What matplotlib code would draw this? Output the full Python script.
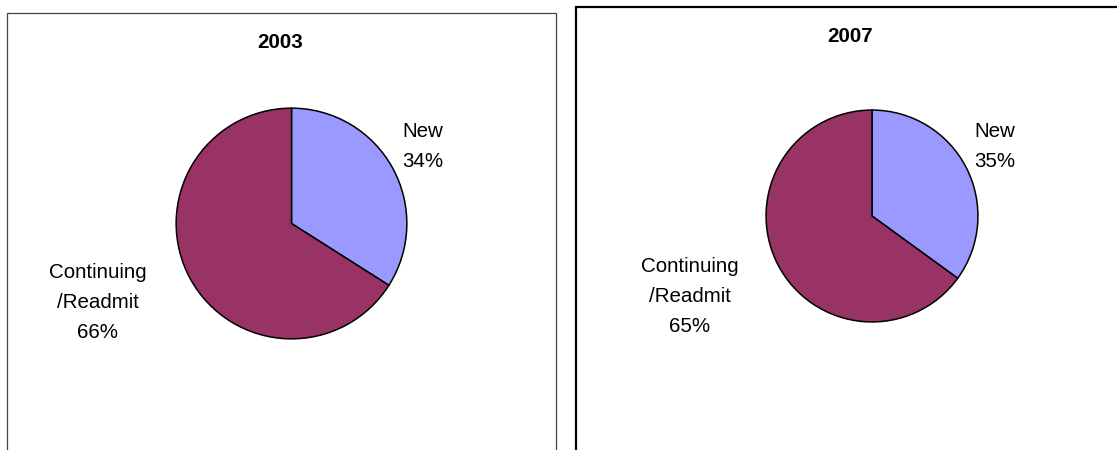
import matplotlib
matplotlib.use("Agg")
import matplotlib.pyplot as plt
from matplotlib.patches import Rectangle

# ---- data ----
years = ["2003", "2007"]
categories = ["New", "Continuing\n/Readmit"]
values_2003 = [34, 66]
values_2007 = [35, 65]
colors = ["#9999FF", "#993366"]

W, H = 1117, 450
plt.rcParams['font.family'] = ['Liberation Sans', 'DejaVu Sans']
fig = plt.figure(figsize=(W / 100, H / 100), dpi=100)

def fx(px):
    return px / W

def fy(py):
    return 1 - py / H

FS = 14.8

# panel boxes (pixel layout)
fig.patches.append(Rectangle((fx(7), fy(460)), fx(556 - 7), (460 - 13) / H,
                             transform=fig.transFigure, fill=False,
                             edgecolor="#444444", linewidth=0.9))
fig.patches.append(Rectangle((fx(576), fy(460)), fx(1130 - 576), (460 - 7) / H,
                             transform=fig.transFigure, fill=False,
                             edgecolor="black", linewidth=1.6))

panels = [
    dict(vals=values_2003, title=years[0], cx=291.5, cy=223.5, r=116.5,
         title_xy=(280, 48),
         new_xy=(423, 136.7), cont_xy=(98, 277.7)),
    dict(vals=values_2007, title=years[1], cx=872, cy=216, r=107,
         title_xy=(850, 42),
         new_xy=(995, 136.7), cont_xy=(690, 271.7)),
]

line_gap = 30
for p in panels:
    cx, cy, r = p["cx"], p["cy"], p["r"]
    ax = fig.add_axes([fx(cx - r), fy(cy + r), 2 * r / W, 2 * r / H])
    ax.pie(p["vals"], colors=colors, startangle=90, counterclock=False,
           wedgeprops=dict(edgecolor="black", linewidth=1.1))
    ax.set_xlim(-1.01, 1.01)
    ax.set_ylim(-1.01, 1.01)
    ax.set_aspect("auto")
    ax.axis("off")

    tx, ty = p["title_xy"]
    fig.text(fx(tx), fy(ty), p["title"], ha="center", va="baseline",
             fontsize=FS, fontweight="bold")

    for cat, val, (lx, ly) in zip(categories, p["vals"],
                                  [p["new_xy"], p["cont_xy"]]):
        lines = cat.split("\n") + [f"{val}%"]
        for i, line in enumerate(lines):
            fig.text(fx(lx), fy(ly + i * line_gap), line, ha="center",
                     va="baseline", fontsize=FS)

fig.savefig("out.png", dpi=100, facecolor="white")
